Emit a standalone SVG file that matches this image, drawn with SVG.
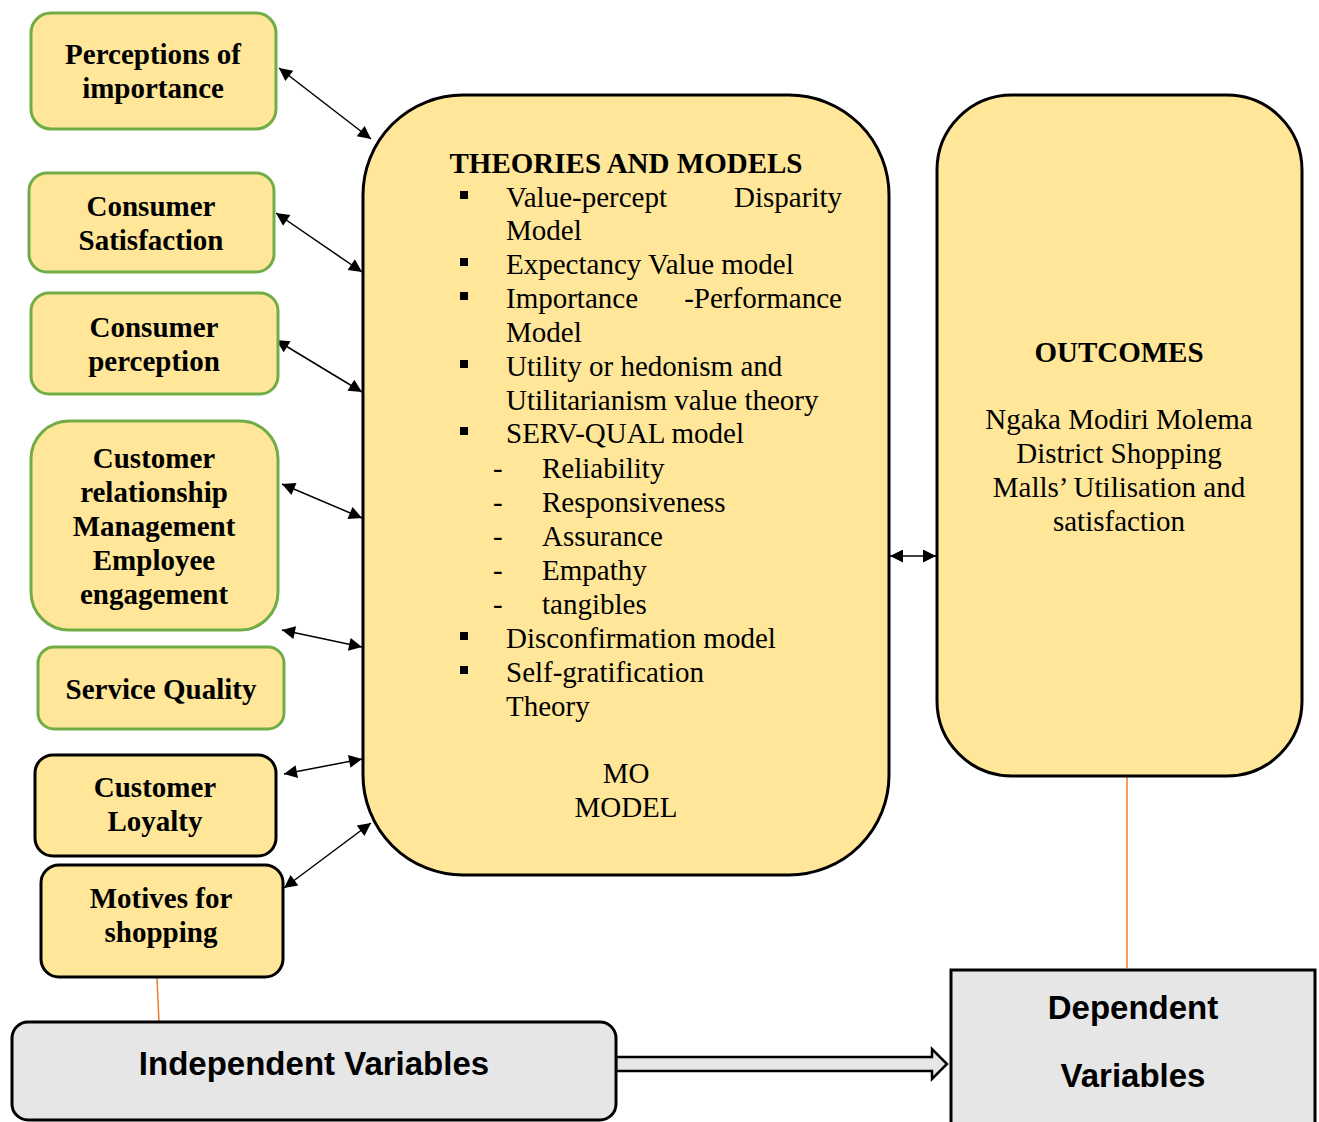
<svg xmlns="http://www.w3.org/2000/svg" width="1319" height="1122" viewBox="0 0 1319 1122">
  <style>
    .box { fill: #ffe699; stroke-width: 3; }
    .green { stroke: #70ad47; }
    .dark { stroke: #000; }
    .grey { fill: #e6e6e6; stroke: #000; stroke-width: 3; }
    .lbl { font-family: "Liberation Serif", "Times New Roman", serif; font-weight: bold; font-size: 29px; fill: #000; text-anchor: middle; }
    .body { font-family: "Liberation Serif", "Times New Roman", serif; font-size: 29px; fill: #000; }
    .sans { font-family: "Liberation Sans", Arial, sans-serif; font-weight: bold; font-size: 33px; fill: #000; text-anchor: middle; }
    .conn { stroke: #000; stroke-width: 1.5; fill: none; marker-start: url(#ah); marker-end: url(#ah); }
    .link { stroke: #ed7d31; stroke-width: 1.5; fill: none; }
  </style>
  <defs>
    <marker id="ah" viewBox="0 0 10 10" refX="10" refY="5" markerWidth="17" markerHeight="13" markerUnits="userSpaceOnUse" orient="auto-start-reverse">
      <path d="M0,0 L10,5 L0,10 Z" fill="#000"/>
    </marker>
  </defs>

  <!-- connectors -->
  <g id="connectors">
    <line class="conn" x1="279" y1="68" x2="371" y2="139"/>
    <line class="conn" x1="276" y1="213" x2="362" y2="272"/>
    <line class="conn" x1="276" y1="340" x2="362" y2="392"/>
    <line class="conn" x1="282" y1="484" x2="362" y2="518"/>
    <line class="conn" x1="282" y1="630" x2="362" y2="647"/>
    <line class="conn" x1="284" y1="774" x2="362" y2="759"/>
    <line class="conn" x1="284" y1="888" x2="371" y2="823"/>
    <line class="conn" x1="890" y1="556" x2="936" y2="556"/>
    <line class="link" x1="157" y1="978" x2="159" y2="1022"/>
    <line class="link" x1="1127" y1="777" x2="1127" y2="968"/>
    <!-- block arrow from independent to dependent -->
    <path d="M616,1057 L932,1057 L932,1049 L947,1064 L932,1079 L932,1071 L616,1071 Z" fill="#e6e6e6" stroke="#000" stroke-width="2.5" stroke-linejoin="miter"/>
  </g>

  <g id="perceptions-of-importance">
    <rect class="box green" x="31" y="13" width="245" height="116" rx="20"/>
    <text class="lbl" x="153" y="64">Perceptions of</text>
    <text class="lbl" x="153" y="98">importance</text>
  </g>

  <g id="consumer-satisfaction">
    <rect class="box green" x="29" y="173" width="245" height="99" rx="18"/>
    <text class="lbl" x="151" y="216">Consumer</text>
    <text class="lbl" x="151" y="250">Satisfaction</text>
  </g>

  <g id="consumer-perception">
    <rect class="box green" x="31" y="293" width="247" height="101" rx="18"/>
    <text class="lbl" x="154" y="337">Consumer</text>
    <text class="lbl" x="154" y="371">perception</text>
  </g>

  <g id="crm-employee-engagement">
    <rect class="box green" x="31" y="421" width="247" height="209" rx="38"/>
    <text class="lbl" x="154" y="468">Customer</text>
    <text class="lbl" x="154" y="502">relationship</text>
    <text class="lbl" x="154" y="536">Management</text>
    <text class="lbl" x="154" y="570">Employee</text>
    <text class="lbl" x="154" y="604">engagement</text>
  </g>

  <g id="service-quality">
    <rect class="box green" x="38" y="647" width="246" height="82" rx="16"/>
    <text class="lbl" x="161" y="699">Service Quality</text>
  </g>

  <g id="customer-loyalty">
    <rect class="box dark" x="35" y="755" width="241" height="101" rx="18"/>
    <text class="lbl" x="155" y="797">Customer</text>
    <text class="lbl" x="155" y="831">Loyalty</text>
  </g>

  <g id="motives-for-shopping">
    <rect class="box dark" x="41" y="865" width="242" height="112" rx="18"/>
    <text class="lbl" x="161" y="908">Motives for</text>
    <text class="lbl" x="161" y="942">shopping</text>
  </g>

  <g id="theories-and-models">
    <rect class="box dark" x="363" y="95" width="526" height="780" rx="100"/>
    <text class="lbl" x="626" y="173">THEORIES AND MODELS</text>
    <g fill="#000">
      <rect x="460" y="191" width="8" height="8"/>
      <rect x="460" y="258" width="8" height="8"/>
      <rect x="460" y="292" width="8" height="8"/>
      <rect x="460" y="360" width="8" height="8"/>
      <rect x="460" y="427" width="8" height="8"/>
      <rect x="460" y="632" width="8" height="8"/>
      <rect x="460" y="666" width="8" height="8"/>
    </g>
    <text class="body" x="506" y="207">Value-percept</text>
    <text class="body" x="842" y="207" text-anchor="end">Disparity</text>
    <text class="body" x="506" y="240">Model</text>
    <text class="body" x="506" y="274">Expectancy Value model</text>
    <text class="body" x="506" y="308">Importance</text>
    <text class="body" x="842" y="308" text-anchor="end">-Performance</text>
    <text class="body" x="506" y="342">Model</text>
    <text class="body" x="506" y="376">Utility or hedonism and</text>
    <text class="body" x="506" y="410">Utilitarianism value theory</text>
    <text class="body" x="506" y="443">SERV-QUAL model</text>
    <text class="body" x="493" y="478">-</text>
    <text class="body" x="542" y="478">Reliability</text>
    <text class="body" x="493" y="512">-</text>
    <text class="body" x="542" y="512">Responsiveness</text>
    <text class="body" x="493" y="546">-</text>
    <text class="body" x="542" y="546">Assurance</text>
    <text class="body" x="493" y="580">-</text>
    <text class="body" x="542" y="580">Empathy</text>
    <text class="body" x="493" y="614">-</text>
    <text class="body" x="542" y="614">tangibles</text>
    <text class="body" x="506" y="648">Disconfirmation model</text>
    <text class="body" x="506" y="682">Self-gratification</text>
    <text class="body" x="506" y="716">Theory</text>
    <text class="body" x="626" y="783" text-anchor="middle">MO</text>
    <text class="body" x="626" y="817" text-anchor="middle">MODEL</text>
  </g>

  <g id="outcomes">
    <rect class="box dark" x="937" y="95" width="365" height="681" rx="75"/>
    <text class="lbl" x="1119" y="362">OUTCOMES</text>
    <text class="body" x="1119" y="429" text-anchor="middle">Ngaka Modiri Molema</text>
    <text class="body" x="1119" y="463" text-anchor="middle">District Shopping</text>
    <text class="body" x="1119" y="497" text-anchor="middle">Malls’ Utilisation and</text>
    <text class="body" x="1119" y="531" text-anchor="middle">satisfaction</text>
  </g>

  <g id="independent-variables">
    <rect class="grey" x="12" y="1022" width="604" height="98" rx="16"/>
    <text class="sans" x="314" y="1075">Independent Variables</text>
  </g>

  <g id="dependent-variables">
    <rect class="grey" x="951" y="970" width="364" height="160"/>
    <text class="sans" x="1133" y="1019">Dependent</text>
    <text class="sans" x="1133" y="1087">Variables</text>
  </g>
</svg>
